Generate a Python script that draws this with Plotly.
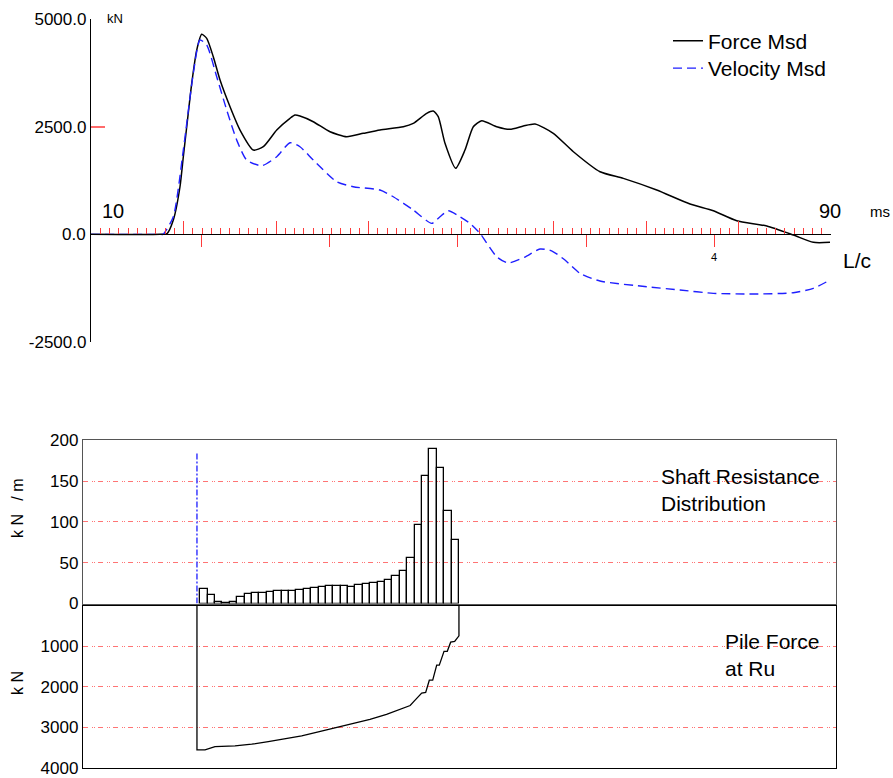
import plotly.graph_objects as go

W, H = 893, 778

# ---------------- data: top chart (time in ms, force in kN) ----------------
force_t = [10.0, 17.46, 18.22, 18.90, 19.62, 19.98, 20.35, 20.89, 21.43, 21.97, 22.51, 23.22,
           23.95, 25.03, 26.11, 27.55, 28.63, 30.08, 31.51, 32.05, 32.59, 34.03, 35.84, 37.64,
           39.44, 41.24, 43.76, 44.84, 46.29, 47.00, 47.54, 48.27, 49.42, 50.43, 51.33, 52.24,
           53.86, 55.30, 56.74, 58.00, 59.98, 62.15, 65.03, 67.55, 71.16, 74.76, 77.28, 79.81,
           83.06, 85.93, 88.09, 89.89]
force_kn = [0, 0, 19, 332, 1105, 1802, 2498, 3506, 4279, 4644, 4551, 4124,
            3583, 2963, 2422, 1957, 2034, 2422, 2694, 2770, 2747, 2615, 2382, 2266,
            2345, 2422, 2498, 2577, 2810, 2863, 2731, 2113, 1533, 1957, 2498, 2638,
            2498, 2438, 2515, 2561, 2345, 1918, 1454, 1300, 1029, 704, 548, 316,
            193, -16, -186, -186]

vel_t = [10.0, 17.46, 17.78, 18.90, 19.98, 21.06, 21.78, 22.51, 23.59, 24.67, 25.75, 26.83,
         28.45, 30.08, 31.51, 32.59, 34.03, 36.56, 38.35, 41.24, 42.68, 44.84, 46.83, 47.73,
         48.63, 49.89, 50.97, 52.05, 53.86, 55.08, 56.92, 58.54, 59.84, 61.24, 62.86, 65.03,
         70.08, 73.68, 77.28, 81.60, 85.93, 88.09, 89.89]
vel_kn = [0, 0, 0, 409, 1957, 3738, 4512, 4396, 3659, 2886, 2190, 1725,
          1593, 1802, 2127, 2034, 1725, 1221, 1105, 1029, 873, 564, 255, 409,
          548, 409, 255, 23, -520, -666, -527, -341, -388, -597, -906, -1084,
          -1217, -1293, -1370, -1386, -1356, -1254, -1061]

y_ticks = [-2500, 2500, 5000]
y_tick_text = ["-2500.0", "2500.0", "5000.0"]
lc_ticks = [0, 1, 2, 3, 4]
lc_text = ["", "", "", "", "4"]

# ---------------- data: bottom chart ----------------
segments = list(range(1, 36))
shaft_res = [18.4, 10.6, 1.6, 0.5, 2.0, 8.0, 11.8, 12.6, 13.4, 14.7, 15.9, 15.9, 15.9, 16.3,
             17.5, 18.7, 20.0, 21.6, 22.0, 21.6, 20.8, 22.4, 24.5, 25.7, 26.1, 29.0, 33.9,
             40.4, 56.3, 96.7, 156.3, 189.0, 166.0, 113.5, 77.6]

pile_x = [0.05, 0.05, 1.14, 2.49, 5.2, 7.46, 9.7, 11.96, 14.22, 16.47, 18.96, 21.2, 23.46,
          25.7, 27.5, 28.9, 29.5, 30.46, 31.0, 31.49, 31.95, 32.49, 32.84, 33.48, 33.92,
          34.38, 34.92, 35.5, 35.5]
pile_force = [0, 3556, 3556, 3476, 3459, 3417, 3354, 3282, 3209, 3112, 3005, 2908, 2803,
              2682, 2561, 2464, 2342, 2155, 2141, 1840, 1840, 1468, 1468, 1129, 1129,
              903, 886, 748, 0]

pile_top_x = [0.05, 0.05]
pile_top_y = [0, 185]

shaft_ticks = [0, 50, 100, 150, 200]
force_ticks = [1000, 2000, 3000, 4000]


def px(x):
    return x / W


def py(y):
    return 1 - y / H


FONT = "Liberation Sans, Arial, sans-serif"
RED = "#ff3b3b"
GRID = "rgba(255,70,70,0.75)"
GRIDDASH = "5px,4px,1px,1px,1px,3px"

fig = go.Figure()

fig.add_trace(go.Scatter(x=force_t, y=force_kn, mode="lines", name="Force Msd",
                         legend="legend",
                         line=dict(color="black", width=1.5, shape="spline", smoothing=0.6),
                         xaxis="x", yaxis="y"))
fig.add_trace(go.Scatter(x=vel_t, y=vel_kn, mode="lines", name="Velocity Msd",
                         legend="legend2",
                         line=dict(color="#1f1fff", width=1.4, dash="9px,5px",
                                   shape="spline", smoothing=0.6),
                         xaxis="x", yaxis="y"))
# L/c marker axis carrier
fig.add_trace(go.Scatter(x=lc_ticks, y=[0] * len(lc_ticks), mode="markers",
                         marker=dict(opacity=0), showlegend=False, hoverinfo="skip",
                         xaxis="x4", yaxis="y"))

fig.add_trace(go.Bar(x=segments, y=shaft_res, width=1.0, showlegend=False,
                     marker=dict(color="rgba(0,0,0,0)", line=dict(color="black", width=1.3)),
                     xaxis="x2", yaxis="y2"))
fig.add_trace(go.Scatter(x=pile_top_x, y=pile_top_y, mode="lines", showlegend=False,
                         line=dict(color="#3a3aff", width=1.5, dash="6px,2px,2px,2px"),
                         xaxis="x2", yaxis="y2"))
fig.add_trace(go.Scatter(x=pile_x, y=pile_force, mode="lines", showlegend=False,
                         line=dict(color="black", width=1.3),
                         xaxis="x3", yaxis="y3"))

zero_pos = py(234.3)
bx0, bx1 = -15.37, 86.52

leg_common = dict(xanchor="left", yanchor="middle", font=dict(size=21, family=FONT),
                  bgcolor="rgba(0,0,0,0)", itemwidth=30)

fig.update_layout(
    width=W, height=H,
    margin=dict(l=0, r=0, t=0, b=0, autoexpand=False),
    paper_bgcolor="white", plot_bgcolor="white",
    font=dict(family=FONT, color="black", size=17),
    bargap=0,
    showlegend=True,
    legend=dict(x=px(668), y=py(41), **leg_common),
    legend2=dict(x=px(668), y=py(68.5), **leg_common),
    xaxis=dict(domain=[px(91), px(831)], range=[10, 90], anchor="free", position=zero_pos,
               showline=True, linecolor="black", linewidth=1.3, automargin=False,
               ticks="inside", tick0=10, dtick=10, ticklen=13, tickcolor=RED, tickwidth=1,
               minor=dict(ticks="inside", tick0=10, dtick=1, ticklen=6, tickcolor=RED,
                          tickwidth=1),
               showticklabels=False, showgrid=False, zeroline=False, fixedrange=True),
    xaxis4=dict(overlaying="x", anchor="free", position=zero_pos, automargin=False,
                range=[-0.867, 4.914], tickmode="array", tickvals=lc_ticks, ticktext=lc_text,
                ticks="outside", ticklen=12, tickcolor=RED, tickwidth=1,
                tickfont=dict(size=11), showline=False, showgrid=False, zeroline=False),
    yaxis=dict(domain=[py(342), py(19)], range=[-2500, 5000], anchor="x", automargin=False,
               showline=True, linecolor="black", linewidth=1.3,
               tickmode="array", tickvals=y_ticks, ticktext=y_tick_text,
               ticks="inside", ticklen=14, tickcolor="#ff6b6b", tickwidth=1.5,
               tickfont=dict(size=17), showgrid=False, zeroline=False),
    xaxis2=dict(domain=[px(83), px(836)], range=[bx0, bx1], anchor="y2", automargin=False,
                showline=True, mirror=True, linecolor="#555", linewidth=1.3,
                ticks="", showticklabels=False, showgrid=False, zeroline=False),
    yaxis2=dict(domain=[py(603.5), py(440)], range=[0, 200.5], anchor="x2", automargin=False,
                showline=True, mirror=True, linecolor="#555", linewidth=1.3,
                tickmode="array", tickvals=shaft_ticks, ticks="",
                tickfont=dict(size=17), showgrid=True, gridcolor=GRID, gridwidth=1,
                griddash=GRIDDASH, zeroline=False),
    xaxis3=dict(domain=[px(83), px(836)], range=[bx0, bx1], anchor="y3", matches="x2",
                automargin=False,
                showline=True, mirror=True, linecolor="black", linewidth=1.3,
                ticks="", showticklabels=False, showgrid=False, zeroline=False),
    yaxis3=dict(domain=[py(768.3), py(605.5)], range=[4010, 0], anchor="x3", automargin=False,
                showline=True, mirror=True, linecolor="black", linewidth=1.3,
                tickmode="array", tickvals=force_ticks, ticks="",
                tickfont=dict(size=17), showgrid=True, gridcolor=GRID, gridwidth=1,
                griddash=GRIDDASH, zeroline=False),
)

ann = [
    dict(text="kN", x=px(105), y=py(19), xanchor="left", yanchor="middle", font=dict(size=13)),
    dict(text="0.0", x=px(88), y=py(234.3), xanchor="right", yanchor="middle", font=dict(size=17)),
    dict(text="10", x=px(113), y=py(211), xanchor="center", yanchor="middle", font=dict(size=20)),
    dict(text="90", x=px(830), y=py(211), xanchor="center", yanchor="middle", font=dict(size=20)),
    dict(text="ms", x=px(880), y=py(211), xanchor="center", yanchor="middle", font=dict(size=15)),
    dict(text="L/c", x=px(857), y=py(261), xanchor="center", yanchor="middle", font=dict(size=21)),
    dict(text="Shaft Resistance<br>Distribution", x=px(659), y=py(490), xanchor="left",
         yanchor="middle", align="left", font=dict(size=21)),
    dict(text="Pile Force<br>at Ru", x=px(723), y=py(655), xanchor="left",
         yanchor="middle", align="left", font=dict(size=21)),
    dict(text="k N   / m", x=px(17), y=py(508), textangle=-90, xanchor="center",
         yanchor="middle", font=dict(size=16)),
    dict(text="k N", x=px(17), y=py(683), textangle=-90, xanchor="center",
         yanchor="middle", font=dict(size=16)),
]
for a in ann:
    a.update(xref="paper", yref="paper", showarrow=False)
fig.update_layout(annotations=ann)

fig.write_html("out.html", config={"displayModeBar": False},
               post_script="document.body.style.margin='0px';document.body.style.overflow='hidden';")
